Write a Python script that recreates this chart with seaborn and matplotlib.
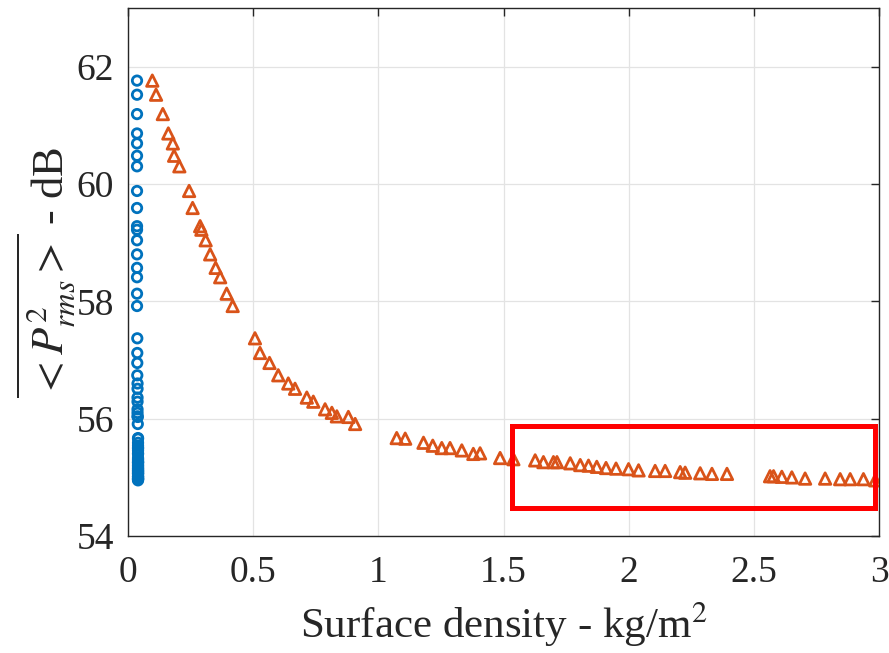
import numpy as np
import pandas as pd
import seaborn as sns
import matplotlib.pyplot as plt
from matplotlib.patches import Rectangle

# mean squared pressure level (dB), same measurements for both series
spl_db = [61.76, 61.52, 61.19, 60.86, 60.69, 60.48, 60.30, 59.88, 59.59, 59.28,
          59.22, 59.04, 58.80, 58.57, 58.41, 58.13, 57.92, 57.37, 57.12, 56.95,
          56.74, 56.60, 56.51, 56.36, 56.29, 56.16, 56.10, 56.04, 56.03, 55.91,
          55.67, 55.66, 55.59, 55.54, 55.50, 55.50, 55.46, 55.40, 55.41, 55.33,
          55.31, 55.29, 55.26, 55.26, 55.26, 55.24, 55.21, 55.20, 55.18, 55.16,
          55.15, 55.14, 55.12, 55.11, 55.11, 55.09, 55.08, 55.07, 55.06, 55.06,
          55.02, 55.02, 55.01, 55.00, 54.98, 54.98, 54.97, 54.97, 54.97, 54.95]

# surface density of the treatment (kg/m^2)
density_treat = [0.097, 0.112, 0.139, 0.161, 0.179, 0.184, 0.205, 0.244, 0.258, 0.288,
                 0.293, 0.310, 0.328, 0.350, 0.368, 0.394, 0.418, 0.507, 0.527, 0.565,
                 0.600, 0.640, 0.667, 0.714, 0.740, 0.787, 0.814, 0.834, 0.880, 0.907,
                 1.073, 1.107, 1.180, 1.217, 1.253, 1.286, 1.333, 1.379, 1.406, 1.486,
                 1.539, 1.626, 1.659, 1.699, 1.713, 1.766, 1.806, 1.839, 1.872, 1.909,
                 1.949, 1.999, 2.039, 2.105, 2.145, 2.205, 2.225, 2.285, 2.332, 2.392,
                 2.564, 2.578, 2.611, 2.651, 2.704, 2.784, 2.844, 2.884, 2.937, 2.984]

# surface density of the bare panel
density_bare = [0.036, 0.036, 0.036, 0.036, 0.036, 0.036, 0.036, 0.036, 0.036, 0.036,
                0.036, 0.036, 0.036, 0.036, 0.036, 0.036, 0.036, 0.037, 0.037, 0.037,
                0.037, 0.038, 0.038, 0.038, 0.038, 0.038, 0.038, 0.038, 0.039, 0.039,
                0.040, 0.040, 0.040, 0.040, 0.040, 0.040, 0.040, 0.040, 0.040, 0.040,
                0.040, 0.040, 0.040, 0.040, 0.040, 0.040, 0.040, 0.040, 0.040, 0.040,
                0.040, 0.040, 0.040, 0.040, 0.040, 0.040, 0.040, 0.040, 0.040, 0.040,
                0.040, 0.040, 0.040, 0.040, 0.040, 0.040, 0.040, 0.040, 0.040, 0.040]

# highlighted region (x0, y0, width, height)
box = (1.534, 54.48, 1.45, 1.39)

df = pd.DataFrame({"spl": spl_db, "treat": density_treat, "bare": density_bare})

sns.set_style("whitegrid")
plt.rcParams["font.family"] = ["Liberation Serif", "DejaVu Serif"]
plt.rcParams["mathtext.fontset"] = "stix"

fig, ax = plt.subplots(figsize=(8.89, 6.53), dpi=100)
fig.subplots_adjust(left=0.144, right=0.989, bottom=0.179, top=0.988)

sns.scatterplot(data=df, x="bare", y="spl", marker="o", s=46, facecolor="none",
                edgecolor="#0072BD", linewidth=2.0, ax=ax, zorder=3)
sns.scatterplot(data=df, x="treat", y="spl", marker="^", s=68, facecolor="none",
                edgecolor="#D95319", linewidth=2.0, ax=ax, zorder=3)

ax.add_patch(Rectangle((box[0], box[1]), box[2], box[3], fill=False,
                       edgecolor="red", linewidth=3.6, zorder=4))

ax.set_xlim(0, 3)
ax.set_ylim(54, 63)
ax.set_xticks([0, 0.5, 1, 1.5, 2, 2.5, 3])
ax.set_xticklabels(["0", "0.5", "1", "1.5", "2", "2.5", "3"])
ax.set_yticks([54, 56, 58, 60, 62])

ax.grid(True, color="#e3e3e3", linewidth=0.9)
for s in ax.spines.values():
    s.set_visible(True)
    s.set_color("#262626")
    s.set_linewidth(1.0)
ax.tick_params(direction="in", length=6, width=1, colors="#262626",
               top=True, right=True, labelsize=27)
ax.tick_params(axis="x", pad=14)
ax.tick_params(axis="y", pad=10)

ax.set_xlabel("Surface density - kg/m$^2$", fontsize=31, color="#262626", labelpad=7)
ax.set_ylabel(r"$\overline{<P^2_{rms}>}$ - dB", fontsize=32, color="#262626", labelpad=0)

plt.savefig("out.png", dpi=100)
